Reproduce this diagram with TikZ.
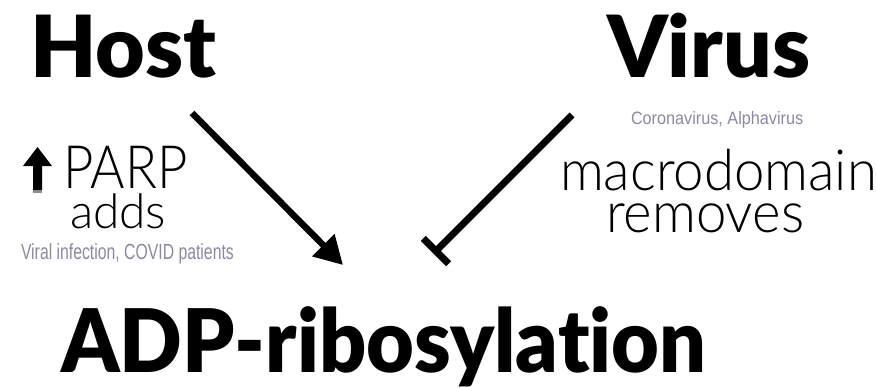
\documentclass[tikz,border=0pt]{standalone}
\usepackage{fontspec}
\usetikzlibrary{arrows.meta}
\newfontfamily\heavyfont{Lato Black}[Ligatures={NoCommon}]
\newfontfamily\lightfont{Lato Light}[Ligatures={NoCommon}]
\newfontfamily\notefont{Liberation Sans}
\definecolor{notegray}{RGB}{138,138,162}
\begin{document}
\begin{tikzpicture}[x=1bp,y=-1bp,
  every node/.style={inner sep=0pt, outer sep=0pt, anchor=base west},
  headline/.style={font=\heavyfont\fontsize{86}{86}\selectfont},
  bigline/.style={font=\heavyfont\fontsize{88}{88}\selectfont, xscale=0.94},
  roleline/.style={font=\lightfont\fontsize{57}{57}\selectfont, xscale=0.96},
  noteline/.style={font=\notefont\fontsize{18}{18}\selectfont, text=notegray},
  activates/.style={line width=6.5bp, -{Triangle[length=28bp,width=30bp]}},
  inhibits/.style={line width=7bp, -{Bar[width=36bp,line width=7bp]}}]
\useasboundingbox (0,0) rectangle (876,387);

% headings
\node[headline] (host) at (30,77) {Host};
\node[headline] (virus) at (607,77) {Virus};
\node[bigline] (adp) at (61,372) {ADP-ribosylation};

% host side: PARP
\fill (37.5,147) -- (52,166) -- (42,166) -- (42,190) -- (33,190) -- (33,166) -- (23,166) -- cycle;
\fill[black!45] (33,190) rectangle (42,193);
\node[font=\lightfont\fontsize{60}{60}\selectfont, xscale=0.88] (parp) at (63,188) {PARP};
\node[font=\lightfont\fontsize{48}{48}\selectfont] (adds) at (70,228) {adds};
\node[noteline, font=\notefont\fontsize{22}{22}\selectfont, xscale=0.72] (hostnote) at (21,259) {Viral infection, COVID patients};

% virus side: macrodomain
\node[noteline, xscale=0.905] (virnote) at (631,124) {Coronavirus, Alphavirus};
\node[roleline] (macro) at (560,190) {macrodomain};
\node[roleline] (removes) at (606,232) {removes};

% connectors
\coordinate (hostfrom) at (192,113);
\coordinate (adpleft) at (343,265);
\coordinate (virusfrom) at (572,115);
\coordinate (adpright) at (433.5,253.5);
\draw[activates] (hostfrom) -- (adpleft);
\draw[inhibits] (virusfrom) -- (adpright);
\end{tikzpicture}
\end{document}
